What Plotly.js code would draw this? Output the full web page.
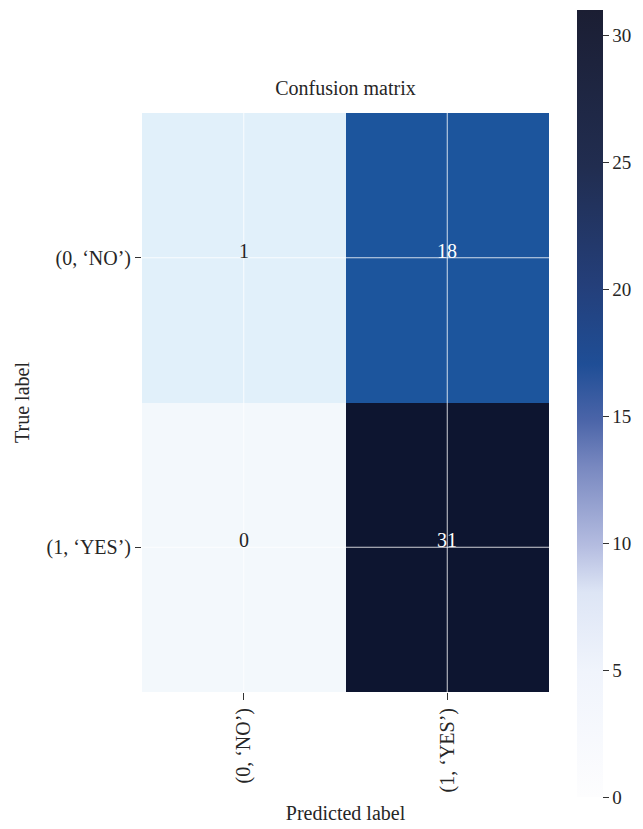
<!DOCTYPE html>
<html>
<head>
<meta charset="utf-8">
<script src="https://cdn.plot.ly/plotly-3.0.1.min.js"></script>
<style>html,body{margin:0;padding:0;background:#fff;}#chart{width:643px;height:829px;}</style>
</head>
<body>
<div id="chart"></div>
<script>
// Data
const predictedLabels = ["(0, \u2018NO\u2019)", "(1, \u2018YES\u2019)"];
const trueLabels = ["(0, \u2018NO\u2019)", "(1, \u2018YES\u2019)"];
const counts = [
  [1, 18],
  [0, 31]
];
const colorbarTicks = [0, 5, 10, 15, 20, 25, 30];
const zMax = 31;

const FONT = "Liberation Serif, Times New Roman, serif";
const TXT = "#262626";

// Colour scale for cells
const cellScale = [
  [0.0, "#f3f8fc"],
  [0.032, "#e1f0fa"],
  [0.3, "#b4c7e8"],
  [0.58, "#1c559d"],
  [1.0, "#0d1530"]
];
// Colour scale shown in the colour bar
const barScale = [
  [0.0, "#fdfdfe"],
  [0.16, "#f0f4fc"],
  [0.26, "#dde5f5"],
  [0.32, "#b4bce0"],
  [0.42, "#7888c0"],
  [0.48, "#4a64a8"],
  [0.55, "#1f4e96"],
  [0.65, "#243f7a"],
  [0.8, "#212d50"],
  [1.0, "#1b1e33"]
];

const PT = 113, PB = 692;
const PH = PB - PT;

const heat = {
  type: "heatmap",
  x: predictedLabels,
  y: trueLabels,
  z: counts,
  zmin: 0,
  zmax: zMax,
  colorscale: cellScale,
  showscale: false,
  hoverinfo: "x+y+z"
};

const barTrace = {
  type: "heatmap",
  x: predictedLabels,
  y: trueLabels,
  z: counts,
  zmin: 0,
  zmax: zMax,
  colorscale: barScale,
  opacity: 0,
  hoverinfo: "skip",
  showscale: true,
  colorbar: {
    x: (577 - 142) / 407,
    xref: "paper",
    xanchor: "left",
    xpad: 0,
    ypad: 0,
    y: (PB - 403.5) / PH,
    yref: "paper",
    yanchor: "middle",
    len: 787,
    lenmode: "pixels",
    thickness: 26,
    thicknessmode: "pixels",
    outlinewidth: 0,
    tickvals: colorbarTicks,
    ticks: "outside",
    ticklen: 6,
    tickwidth: 1,
    tickcolor: "#333333",
    tickfont: {family: FONT, size: 19, color: TXT}
  }
};

const annotations = [];
const shapes = [];
for (let i = 0; i < trueLabels.length; i++) {
  for (let j = 0; j < predictedLabels.length; j++) {
    const v = counts[i][j];
    annotations.push({
      x: predictedLabels[j],
      y: trueLabels[i],
      xref: "x", yref: "y",
      text: String(v),
      showarrow: false,
      yshift: 7,
      font: {family: FONT, size: 20, color: v > zMax / 2 ? "#ffffff" : TXT}
    });
  }
}
// white grid lines at category centres
predictedLabels.forEach(c => shapes.push({
  type: "line", xref: "x", yref: "paper", x0: c, x1: c, y0: 0, y1: 1,
  line: {color: "rgba(255,255,255,0.8)", width: 1}, layer: "above"
}));
trueLabels.forEach(c => shapes.push({
  type: "line", xref: "paper", yref: "y", x0: 0, x1: 1, y0: c, y1: c,
  line: {color: "rgba(255,255,255,0.8)", width: 1}, layer: "above"
}));

const layout = {
  width: 643,
  height: 829,
  margin: {l: 142, r: 94, t: PT, b: 829 - PB, pad: 0, autoexpand: false},
  paper_bgcolor: "#ffffff",
  plot_bgcolor: "#ffffff",
  font: {family: FONT, size: 20, color: TXT},
  title: {
    text: "Confusion matrix",
    font: {family: FONT, size: 20, color: TXT},
    x: 0.5, xref: "paper", xanchor: "center",
    y: 1 - 88 / 829, yanchor: "middle"
  },
  xaxis: {
    type: "category",
    tickangle: -90,
    ticks: "outside",
    ticklen: 7,
    tickcolor: "#333333",
    showgrid: false,
    showline: false,
    zeroline: false,
    tickfont: {family: FONT, size: 20, color: TXT},
    title: {text: "Predicted label", font: {family: FONT, size: 20, color: TXT}, standoff: 14},
    fixedrange: true
  },
  yaxis: {
    type: "category",
    autorange: "reversed",
    ticks: "outside",
    ticklen: 6,
    tickcolor: "#333333",
    showgrid: false,
    showline: false,
    zeroline: false,
    tickfont: {family: FONT, size: 20, color: TXT},
    title: {text: "True label", font: {family: FONT, size: 20, color: TXT}, standoff: 11},
    fixedrange: true
  },
  annotations: annotations,
  shapes: shapes,
  showlegend: false
};

Plotly.newPlot("chart", [heat, barTrace], layout, {displayModeBar: false, staticPlot: true});
</script>
</body>
</html>
